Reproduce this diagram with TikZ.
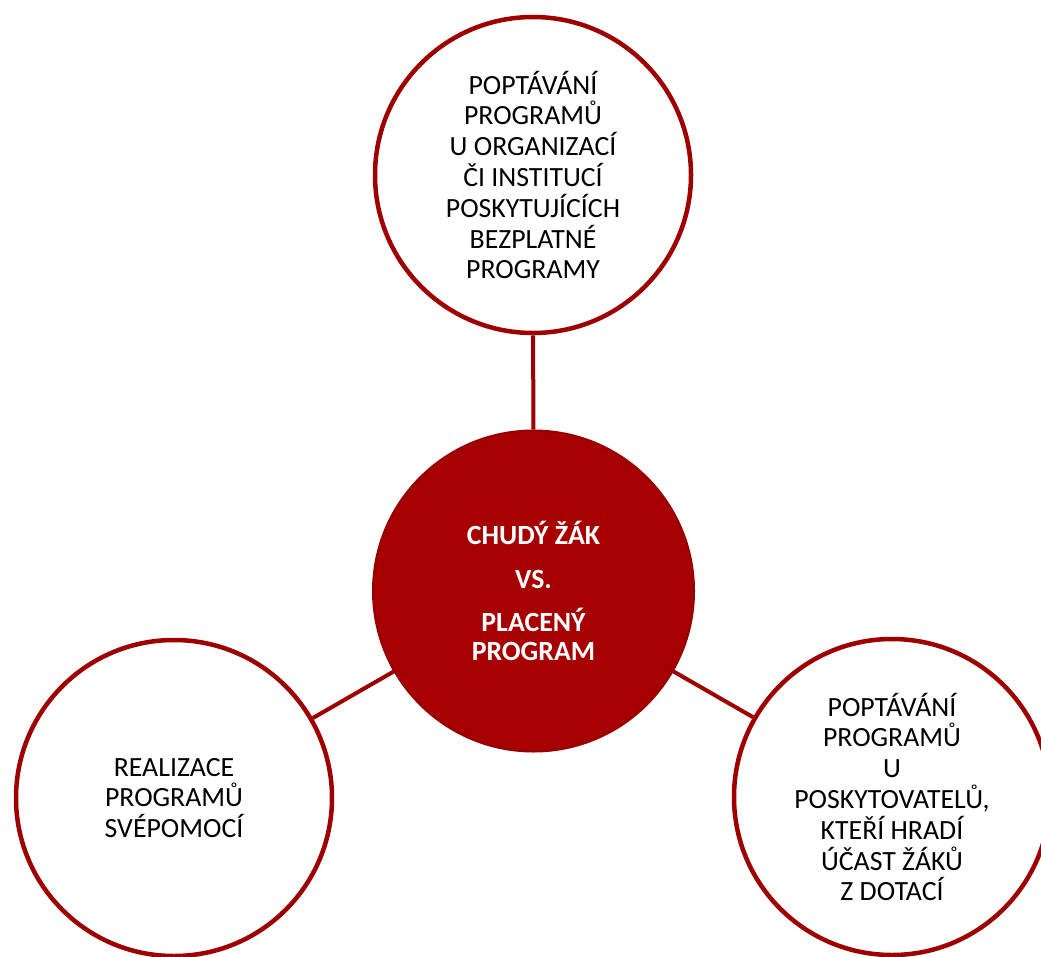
\documentclass[tikz,border=0pt]{standalone}
\usepackage{fontspec}
\setmainfont{Carlito}
\definecolor{redfill}{RGB}{166,0,0}
\definecolor{redline}{RGB}{158,0,0}
\definecolor{reddark}{RGB}{150,0,0}
\begin{document}
\begin{tikzpicture}[x=1pt,y=-1pt,
  outer/.style={circle,draw=redline,line width=4.5pt,fill=white,minimum size=316pt,inner sep=0pt,align=center,font=\fontsize{27.8}{30.8}\selectfont,text=black},
  hub/.style={circle,draw=reddark,line width=2pt,fill=redfill,minimum size=321pt,inner sep=0pt,align=center,font=\fontsize{27.8}{29}\selectfont\bfseries,text=white},
  link/.style={draw=redline,line width=4pt}]
\useasboundingbox (0,0) rectangle (1041,956);
\node[hub] (c) at (533.5,591) {CHUDÝ ŽÁK\\[15pt]VS.\\[14pt]PLACENÝ\\PROGRAM};
\node[outer] (t) at (533,175) {POPTÁVÁNÍ\\PROGRAMŮ\\U ORGANIZACÍ\\ČI INSTITUCÍ\\POSKYTUJÍCÍCH\\BEZPLATNÉ\\PROGRAMY};
\node[outer] (l) at (174,798) {REALIZACE\\PROGRAMŮ\\SVÉPOMOCÍ};
\node[outer] (r) at (892,797) {POPTÁVÁNÍ\\PROGRAMŮ\\U\\POSKYTOVATELŮ,\\KTEŘÍ HRADÍ\\ÚČAST ŽÁKŮ\\Z DOTACÍ};
\draw[link] (c) -- (t);
\draw[link] (c) -- (l);
\draw[link] (c) -- (r);
\end{tikzpicture}
\end{document}
